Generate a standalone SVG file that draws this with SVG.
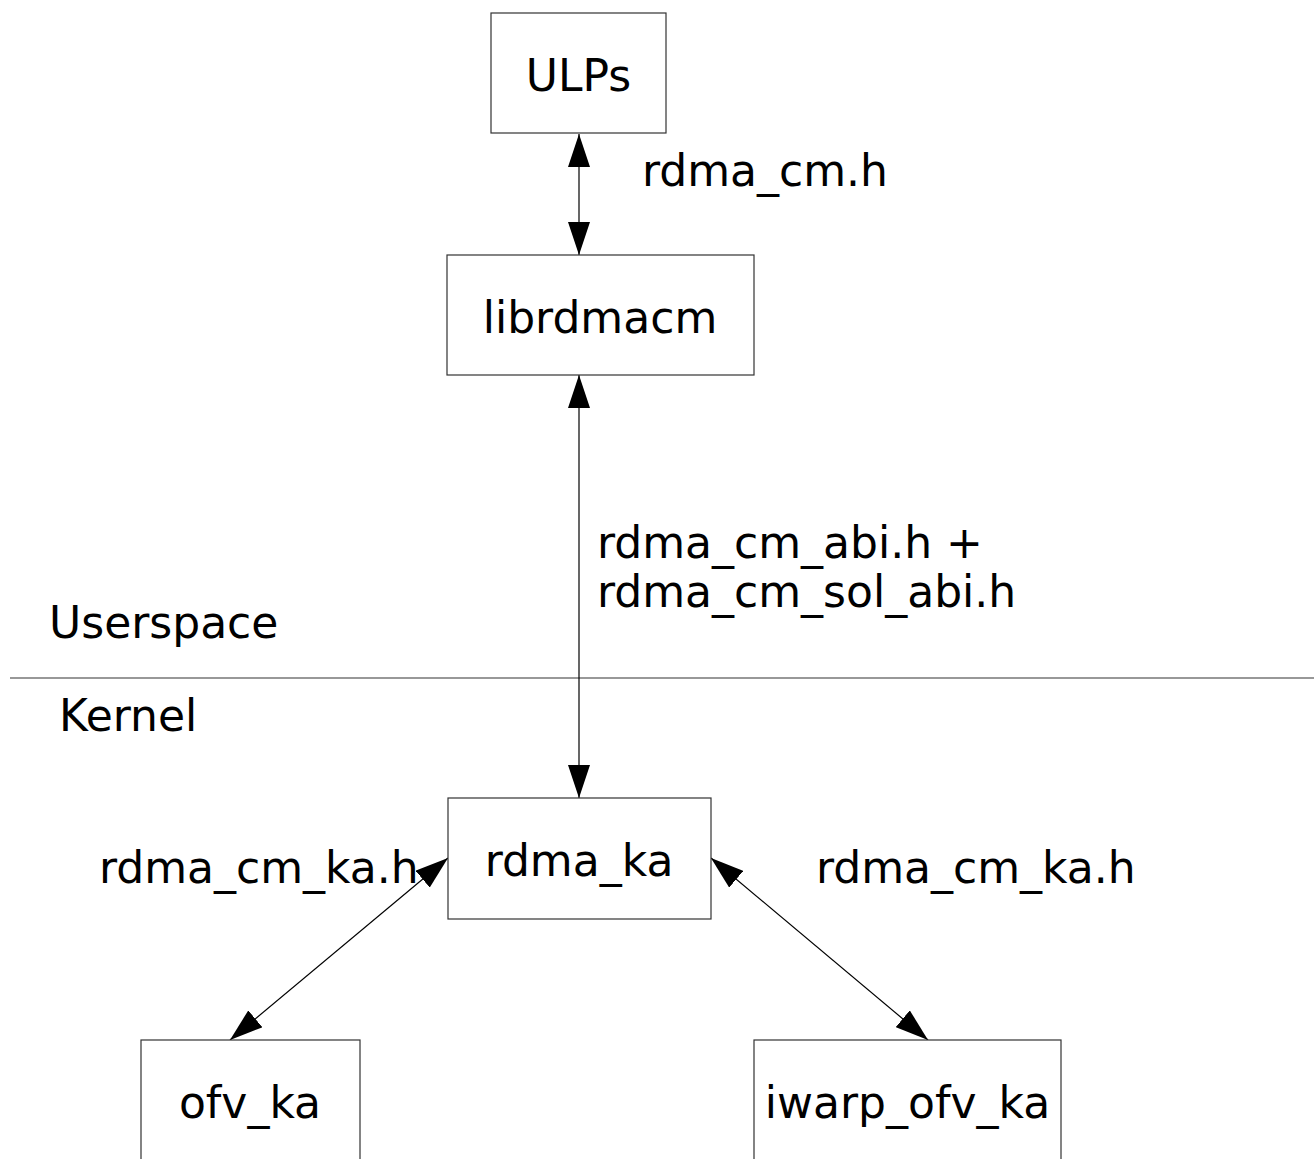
<svg xmlns="http://www.w3.org/2000/svg" width="1314" height="1159" viewBox="0 0 1314 1159">
  <defs>
    <style>
      .box { fill: #ffffff; stroke: #333333; stroke-width: 1.2; }
      .lbl { font-family: "DejaVu Sans", "Bitstream Vera Sans", sans-serif; font-size: 44px; fill: #000000; }
      .mid { text-anchor: middle; }
      .link { stroke: #000000; stroke-width: 1.2; fill: none; marker-start: url(#head); marker-end: url(#head); }
      .divider { stroke: #333333; stroke-width: 1.2; }
    </style>
    <marker id="head" markerUnits="userSpaceOnUse" markerWidth="34" markerHeight="22" refX="33" refY="11" orient="auto-start-reverse">
      <path d="M0,0 L33,11 L0,22 z" fill="#000000"/>
    </marker>
  </defs>

  <rect width="1314" height="1159" fill="#ffffff"/>

  <!-- userspace / kernel boundary -->
  <g id="boundary">
    <line class="divider" x1="10" y1="678" x2="1314" y2="678"/>
    <text class="lbl" x="49" y="638">Userspace</text>
    <text class="lbl" x="59" y="731">Kernel</text>
  </g>

  <!-- connectors -->
  <g id="connectors">
    <line class="link" x1="579" y1="134" x2="579" y2="255"/>
    <line class="link" x1="579" y1="375" x2="579" y2="798"/>
    <line class="link" x1="448" y1="858" x2="230" y2="1040"/>
    <line class="link" x1="711" y1="858" x2="928" y2="1040"/>
    <text class="lbl" x="642" y="186">rdma_cm.h</text>
    <text class="lbl" x="597" y="558">rdma_cm_abi.h +</text>
    <text class="lbl" x="597" y="607">rdma_cm_sol_abi.h</text>
    <text class="lbl" x="99" y="883">rdma_cm_ka.h</text>
    <text class="lbl" x="816" y="883">rdma_cm_ka.h</text>
  </g>

  <g id="ulps">
    <rect class="box" x="491" y="13" width="175" height="120"/>
    <text class="lbl mid" x="578.5" y="91">ULPs</text>
  </g>

  <g id="librdmacm">
    <rect class="box" x="447" y="255" width="307" height="120"/>
    <text class="lbl mid" x="600" y="333">librdmacm</text>
  </g>

  <g id="rdma_ka">
    <rect class="box" x="448" y="798" width="263" height="121"/>
    <text class="lbl mid" x="579" y="876">rdma_ka</text>
  </g>

  <g id="ofv_ka">
    <rect class="box" x="141" y="1040" width="219" height="140"/>
    <text class="lbl mid" x="250" y="1118">ofv_ka</text>
  </g>

  <g id="iwarp_ofv_ka">
    <rect class="box" x="754" y="1040" width="307" height="140"/>
    <text class="lbl mid" x="907.5" y="1118">iwarp_ofv_ka</text>
  </g>
</svg>
